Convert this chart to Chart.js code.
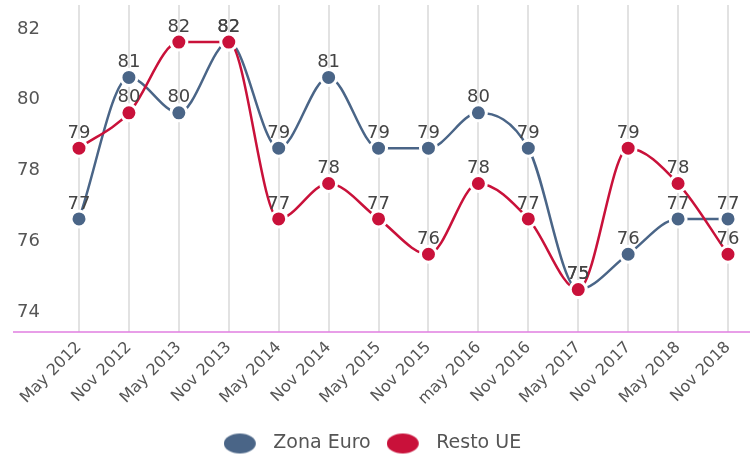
<!DOCTYPE html>
<html>
<head>
<meta charset="utf-8">
<script src="https://cdn.jsdelivr.net/npm/chart.js@4.4.1/dist/chart.umd.min.js"></script>
<style>
    html, body { margin: 0; padding: 0; background: #fff; }
    .wrap { position: relative; width: 750px; height: 459px; }
</style>
</head>
<body>
<div class="wrap"><canvas id="encuestaChart"></canvas></div>
<script>
// Datos
const periodos = ['May 2012', 'Nov 2012', 'May 2013', 'Nov 2013', 'May 2014', 'Nov 2014', 'May 2015',
                  'Nov 2015', 'may 2016', 'Nov 2016', 'May 2017', 'Nov 2017', 'May 2018', 'Nov 2018'];
const zonaEuro = [77, 81, 80, 82, 79, 81, 79, 79, 80, 79, 75, 76, 77, 77];
const restoUE  = [79, 80, 82, 82, 77, 78, 77, 76, 78, 77, 75, 79, 78, 76];
const ticksY = [74, 76, 78, 80, 82];

const AZUL = '#4a6587';
const ROJO = '#c9113a';
const GRIS = '#555555';
const FUENTE = '"DejaVu Sans", sans-serif';

// Elipse de la leyenda (deja hueco a la derecha antes del texto)
function elipseLeyenda(color) {
    const c = document.createElement('canvas');
    c.width = 40;
    c.height = 22;
    const g = c.getContext('2d');
    g.fillStyle = color;
    g.beginPath();
    g.ellipse(16, 11, 16, 10, 0, 0, Math.PI * 2);
    g.fill();
    return c;
}

// Etiquetas de valor encima de cada punto
const etiquetasPlugin = {
    id: 'etiquetas',
    afterDatasetsDraw(chart) {
        const ctx = chart.ctx;
        ctx.save();
        ctx.font = '18px ' + FUENTE;
        ctx.fillStyle = '#444';
        ctx.textAlign = 'center';
        ctx.textBaseline = 'middle';
        chart.data.datasets.forEach((ds, i) => {
            chart.getDatasetMeta(i).data.forEach((pt, j) => {
                ctx.fillText(ds.data[j], pt.x, pt.y - 15);
            });
        });
        ctx.restore();
    }
};

// Línea base rosa que cruza todo el ancho
const lineaBase = {
    id: 'lineaBase',
    beforeDatasetsDraw(chart) {
        const { ctx, chartArea } = chart;
        ctx.save();
        ctx.strokeStyle = '#e07ee0';
        ctx.lineWidth = 1.5;
        ctx.beginPath();
        ctx.moveTo(13, chartArea.bottom);
        ctx.lineTo(chart.width, chartArea.bottom);
        ctx.stroke();
        ctx.restore();
    }
};

const ctx = document.getElementById('encuestaChart').getContext('2d');
new Chart(ctx, {
    type: 'line',
    data: {
        labels: periodos,
        datasets: [{
            label: 'Zona Euro',
            data: zonaEuro,
            borderColor: AZUL,
            backgroundColor: AZUL,
            borderWidth: 2.5,
            cubicInterpolationMode: 'monotone',
            pointRadius: 8,
            pointBorderColor: '#fff',
            pointBorderWidth: 3,
            pointBackgroundColor: AZUL,
            clip: false,
            order: 1
        }, {
            label: 'Resto UE',
            data: restoUE,
            borderColor: ROJO,
            backgroundColor: ROJO,
            borderWidth: 2.5,
            cubicInterpolationMode: 'monotone',
            pointRadius: 8,
            pointBorderColor: '#fff',
            pointBorderWidth: 3,
            pointBackgroundColor: ROJO,
            clip: false,
            order: 0
        }]
    },
    options: {
        responsive: true,
        maintainAspectRatio: false,
        animation: false,
        layout: { autoPadding: false, padding: { top: 0, left: 17, right: 22, bottom: -4 } },
        plugins: {
            legend: {
                position: 'bottom',
                labels: {
                    usePointStyle: true,
                    pointStyleWidth: 40,
                    boxHeight: 14,
                    color: GRIS,
                    font: { family: FUENTE, size: 19 },
                    padding: 16,
                    sort: (a, b) => a.datasetIndex - b.datasetIndex,
                    generateLabels: (chart) =>
                        Chart.defaults.plugins.legend.labels.generateLabels(chart).map(item => ({
                            ...item,
                            pointStyle: elipseLeyenda(chart.data.datasets[item.datasetIndex].borderColor)
                        }))
                }
            },
            tooltip: { enabled: false }
        },
        scales: {
            x: {
                offset: false,
                grid: { color: '#e2e2e2', lineWidth: 2, drawTicks: false },
                border: { display: false },
                ticks: {
                    color: GRIS,
                    font: { family: FUENTE, size: 16 },
                    minRotation: 45,
                    maxRotation: 45,
                    padding: 6
                },
                afterFit: (scale) => {
                    scale.paddingLeft = 0;
                    scale.paddingRight = 0;
                    scale.height = 86;
                }
            },
            y: {
                min: 73.8,
                max: 83.05,
                afterBuildTicks: (scale) => {
                    scale.ticks = ticksY.map(v => ({ value: v }));
                },
                afterFit: (scale) => {
                    scale.width = 62;
                    scale.paddingTop = 5;
                    scale.paddingBottom = 0;
                },
                grid: { display: false },
                border: { display: false },
                ticks: {
                    color: GRIS,
                    font: { family: FUENTE, size: 18 },
                    padding: 0,
                    crossAlign: 'far',
                    labelOffset: -13
                }
            }
        }
    },
    plugins: [lineaBase, etiquetasPlugin]
});
</script>
</body>
</html>
